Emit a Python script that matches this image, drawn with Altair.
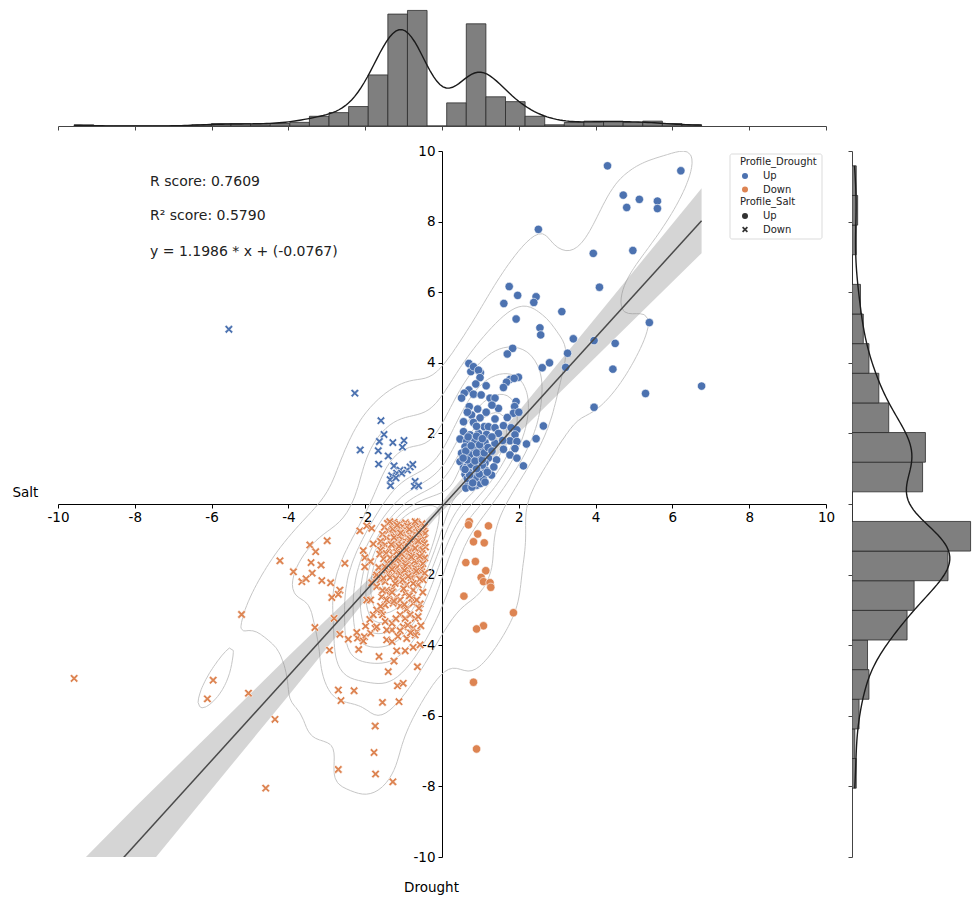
import numpy as np
import pandas as pd
import altair as alt

alt.data_transformers.disable_max_rows()
FONT = "DejaVu Sans"

# ---------------- data ----------------
# (Drought, Salt) pairs, grouped by (Profile_Drought, Profile_Salt)
up_up = [
    (4.31, 9.58), (6.22, 9.44), (4.72, 8.75), (4.81, 8.40), (5.14, 8.63), (5.61, 8.58), (5.61, 8.37), (2.51, 7.78), (3.94, 7.10), (4.97, 7.18),
    (4.10, 6.14), (1.75, 6.16), (1.61, 5.68), (1.97, 5.91), (2.45, 5.87), (2.39, 5.71), (1.93, 5.24), (3.12, 5.45), (2.55, 4.99), (2.57, 4.79),
    (3.42, 4.68), (3.96, 4.63), (4.51, 4.55), (5.40, 5.14), (3.27, 4.27), (1.84, 4.41), (1.70, 4.25), (2.80, 4.00), (2.61, 3.86), (3.22, 3.87),
    (4.45, 3.82), (5.30, 3.13), (3.96, 2.74), (6.76, 3.34), (2.64, 2.21), (2.45, 1.85), (2.20, 1.70), (2.12, 1.08), (0.75, 3.75), (1.00, 3.72),
    (0.70, 3.98), (0.82, 3.89), (0.95, 3.79), (0.99, 3.58), (1.99, 3.59), (1.77, 3.53), (1.68, 3.45), (1.60, 3.30), (1.88, 3.56), (0.70, 3.23),
    (0.58, 3.14), (0.51, 3.00), (0.82, 3.11), (1.02, 3.09), (1.25, 3.00), (1.38, 3.00), (1.93, 2.90), (1.89, 2.76), (1.47, 2.71), (0.71, 2.76),
    (0.93, 2.69), (0.77, 2.52), (0.99, 2.44), (1.86, 2.57), (1.38, 2.41), (0.56, 2.33), (0.82, 2.31), (1.10, 2.19), (1.21, 2.19), (1.38, 2.16),
    (1.60, 2.22), (1.80, 2.16), (1.95, 2.10), (0.56, 2.05), (0.73, 1.96), (0.95, 2.00), (1.16, 1.97), (1.47, 2.00), (1.90, 1.96), (0.47, 1.84),
    (0.64, 1.77), (0.86, 1.79), (1.12, 1.75), (1.38, 1.72), (1.77, 1.79), (1.95, 1.77), (0.60, 1.62), (0.82, 1.57), (1.03, 1.57), (1.90, 1.57),
    (0.51, 1.44), (0.73, 1.39), (0.95, 1.35), (1.21, 1.30), (1.42, 1.25), (1.77, 1.39), (1.95, 1.30), (0.47, 1.20), (0.69, 1.16), (0.90, 1.11),
    (1.12, 1.16), (0.56, 1.02), (0.77, 0.97), (0.99, 0.99), (0.60, 0.84), (0.82, 0.84), (1.03, 0.80), (1.29, 0.82), (0.73, 0.70), (0.95, 0.65),
    (0.69, 0.58), (0.90, 0.53),
    (0.62, 0.45), (0.78, 0.48), (0.85, 0.62), (1.00, 0.58), (0.66, 0.72), (0.88, 0.75), (1.08, 0.70), (0.70, 0.90), (0.93, 0.92), (1.15, 0.95),
    (0.64, 1.05), (0.84, 1.07), (1.05, 1.10), (0.75, 1.12), (0.97, 0.85), (1.18, 0.90), (0.80, 0.60), (1.12, 0.62), (0.72, 0.82), (0.90, 1.00),
    (0.60, 0.98), (1.35, 1.05),
    (0.66, 1.25), (0.86, 1.22), (1.05, 1.25), (0.62, 1.50), (0.90, 1.45), (1.10, 1.45), (0.76, 1.65), (0.98, 1.68), (1.20, 1.60), (0.68, 1.90),
    (0.90, 1.92), (1.05, 1.85), (1.30, 1.90), (1.60, 1.55), (1.58, 1.80), (0.55, 1.30), (1.30, 1.50),
    (0.66, 2.60), (1.15, 2.60), (1.30, 2.80), (0.90, 2.20), (1.70, 2.45), (2.00, 2.60),
    (0.88, 3.40), (1.15, 3.35),
]
up_down = [
    (-2.27, 3.14), (-1.59, 2.36), (-1.51, 1.97), (-1.63, 1.77), (-1.28, 1.74), (-0.99, 1.80), (-1.03, 1.61), (-2.13, 1.53), (-1.66, 1.51), (-1.40, 1.36),
    (-1.65, 1.13), (-1.25, 1.08), (-1.09, 0.96), (-1.18, 0.87), (-1.31, 0.80), (-1.35, 0.69), (-1.34, 0.52), (-0.90, 0.96), (-0.83, 1.05), (-0.76, 1.12),
    (-1.05, 0.87), (-0.70, 0.64), (-0.72, 0.50), (-0.61, 0.52), (-1.20, 0.74), (-5.55, 4.95),
]
down_up = [
    (0.71, -0.50), (0.69, -0.59), (1.21, -0.62), (0.93, -0.85), (0.82, -1.07), (1.10, -1.10), (0.62, -1.66), (0.87, -1.63), (1.14, -1.89), (1.02, -2.08),
    (1.08, -2.20), (1.25, -2.23), (1.27, -2.36), (0.57, -2.61), (1.86, -3.08), (1.08, -3.45), (0.90, -3.54), (0.82, -5.05), (0.90, -6.94),
]
down_down = [
    (-9.58, -4.94), (-5.22, -3.13), (-5.96, -4.99), (-6.11, -5.52), (-5.04, -5.36), (-4.35, -6.10), (-4.59, -8.05), (-4.22, -1.61), (-3.87, -1.92), (-3.44, -1.16),
    (-3.29, -1.35), (-2.99, -1.04), (-3.41, -1.66), (-3.15, -1.73), (-3.38, -1.96), (-3.65, -2.20), (-3.54, -2.12), (-3.13, -2.17), (-2.90, -2.23), (-2.53, -1.68),
    (-2.66, -2.44), (-2.70, -2.56), (-2.87, -2.65), (-3.31, -3.50), (-2.81, -3.24), (-2.66, -3.69), (-2.93, -4.14), (-2.70, -5.27), (-2.29, -5.29), (-2.63, -5.57),
    (-1.74, -6.29), (-1.77, -7.04), (-2.70, -7.52), (-1.73, -7.65), (-1.28, -7.87), (-1.55, -5.62), (-1.12, -5.60), (-1.16, -5.15), (-1.01, -5.08), (-1.40, -4.75),
    (-1.25, -4.45), (-1.64, -4.32), (-0.64, -4.61), (-0.57, -3.99), (-0.75, -4.06), (-0.96, -4.16), (-1.18, -4.16), (-2.14, -0.76), (-1.96, -0.62), (-1.83, -0.69),
    (-2.05, -1.32), (-2.01, -1.52), (-1.86, -1.63), (-2.01, -1.78), (-1.79, -1.13), (-1.57, -1.18), (-1.96, -2.72), (-1.86, -2.72), (-2.44, -3.83), (-2.20, -3.80),
    (-2.22, -3.64), (-2.02, -3.76), (-2.17, -4.12), (-1.86, -3.66), (-1.74, -3.52), (-1.99, -3.46), (-1.88, -3.27), (-1.79, -3.14), (-1.55, -3.14), (-1.58, -3.05),
    (-1.70, -3.00), (-1.48, -2.86), (-1.27, -2.81), (-1.09, -2.89), (-0.92, -2.98), (-0.75, -2.81), (-0.57, -2.83), (-1.09, -3.14), (-0.96, -3.24), (-0.83, -3.14),
    (-0.70, -3.24), (-0.62, -3.19), (-1.01, -3.48), (-0.89, -3.43), (-0.75, -3.52), (-0.66, -3.62), (-1.09, -3.59), (-1.30, -3.57), (-1.44, -3.57), (-1.44, -3.85),
    (-1.30, -3.90), (-0.92, -3.81), (-0.70, -3.71), (-1.48, -3.33), (-1.30, -3.38), (-1.70, -3.48), (-1.72, -2.06), (-1.61, -2.15), (-2.05, -3.88),
    (-1.83, -2.23), (-1.70, -2.34), (-1.44, -2.44), (-1.27, -2.36), (-1.09, -2.20), (-0.92, -2.29), (-0.75, -2.44), (-0.62, -2.29), (-0.49, -2.15), (-1.57, -2.63),
    (-1.37, -2.58), (-1.18, -2.63), (-0.96, -2.53), (-0.79, -2.67), (-0.66, -2.72), (-1.09, -2.72), (-1.44, -2.72), (-1.48, -2.20), (-1.70, -2.01), (-1.57, -1.87),
    (-1.27, -2.01), (-1.05, -2.01), (-0.88, -1.87), (-0.66, -2.01), (-0.53, -1.92),
    (-1.42, -0.55), (-1.25, -0.52), (-1.10, -0.57), (-0.95, -0.53), (-0.80, -0.58), (-0.66, -0.51), (-0.52, -0.56),
    (-1.50, -0.66), (-1.33, -0.63), (-1.18, -0.68), (-1.02, -0.64), (-0.88, -0.67), (-0.73, -0.62), (-0.58, -0.69), (-0.45, -0.64),
    (-1.40, -0.76), (-1.22, -0.73), (-1.07, -0.78), (-0.92, -0.74), (-0.78, -0.79), (-0.62, -0.75), (-0.48, -0.77),
    (-1.55, -0.86), (-1.30, -0.83), (-1.15, -0.88), (-1.00, -0.84), (-0.85, -0.87), (-0.70, -0.85), (-0.55, -0.89), (-0.44, -0.83),
    (-1.45, -0.96), (-1.20, -0.93), (-1.05, -0.98), (-0.90, -0.95), (-0.76, -0.97), (-0.60, -0.94), (-0.47, -0.99),
    (-1.60, -1.06), (-1.35, -1.03), (-1.12, -1.08), (-0.97, -1.04), (-0.82, -1.07), (-0.68, -1.05), (-0.52, -1.09),
    (-1.48, -1.16), (-1.27, -1.13), (-1.08, -1.17), (-0.93, -1.14), (-0.78, -1.18), (-0.63, -1.15), (-0.46, -1.12),
    (-1.38, -1.26), (-1.20, -1.23), (-1.02, -1.27), (-0.87, -1.24), (-0.72, -1.28), (-0.57, -1.25), (-0.43, -1.22),
    (-1.60, -1.31), (-1.10, -1.30), (-0.80, -1.32), (-0.50, -1.30),
    (-1.36, -0.50), (-0.70, -0.50), (-1.12, -0.91), (-0.83, -1.00), (-1.28, -0.71), (-0.99, -1.20), (-0.60, -0.81), (-1.17, -0.60),
    (-1.62, -1.42), (-1.45, -1.40), (-1.28, -1.44), (-1.12, -1.41), (-0.97, -1.45), (-0.83, -1.39), (-0.68, -1.43), (-0.52, -1.40),
    (-1.52, -1.55), (-1.35, -1.53), (-1.19, -1.57), (-1.04, -1.54), (-0.90, -1.58), (-0.75, -1.52), (-0.60, -1.56), (-0.45, -1.53),
    (-1.42, -1.68), (-1.26, -1.66), (-1.10, -1.70), (-0.95, -1.67), (-0.80, -1.71), (-0.65, -1.65), (-0.50, -1.69),
    (-1.65, -1.80), (-1.48, -1.78), (-1.33, -1.82), (-1.17, -1.79), (-1.00, -1.83), (-0.86, -1.78), (-0.70, -1.81), (-0.55, -1.84),
    (-1.40, -1.95), (-1.22, -1.93), (-1.10, -1.97), (-0.93, -1.94), (-0.78, -1.98), (-0.45, -1.96),
    (-1.52, -2.10), (-1.35, -2.08), (-1.20, -2.12), (-0.80, -2.09), (-0.58, -2.13),
    (-1.55, -2.45), (-1.30, -2.50), (-1.00, -2.40), (-0.50, -2.50), (-0.85, -2.60), (-1.25, -2.75), (-0.98, -2.85), (-0.60, -2.95), (-1.60, -2.90),
    (-1.20, -3.25), (-0.55, -3.45), (-1.15, -3.75), (-0.82, -3.65),
    (-1.25, -0.95), (-1.05, -1.15), (-0.85, -1.35), (-0.95, -1.75), (-1.15, -1.55), (-0.72, -1.62), (-0.62, -1.05), (-1.08, -0.82), (-0.90, -0.62), (-1.30, -1.85),
    (-0.75, -2.25), (-1.02, -2.15), (-1.18, -1.35), (-0.98, -1.88), (-0.67, -1.90), (-1.32, -1.15), (-0.85, -0.72), (-1.05, -1.42), (-0.58, -1.48), (-1.22, -2.25),
    (-0.88, -2.05), (-0.70, -1.25), (-1.12, -1.20), (-0.93, -1.30), (-0.80, -1.50),
]

# marginal histogram counts (equal-width bins spanning the data range)
drought_hist_counts = [1, 0, 0, 0, 0, 0, 1, 2, 2, 1, 2, 3, 8, 11, 16, 42, 92, 95, 0, 19, 84, 24, 20, 8, 1, 3, 4, 4, 3, 4, 2, 1]
salt_hist_counts = [3, 2, 5, 12, 11, 39, 44, 68, 84, 0, 50, 52, 26, 19, 12, 8, 6, 0, 3, 4, 3]

# regression summary (as printed on the chart)
reg_slope = 1.1986
reg_intercept = -0.0767
r_score = 0.7609
r2_score = 0.5790

# confidence band half-widths
ci_x = [-9.58, -8.0, -6.0, -4.0, -2.0, -0.2, 2.0, 4.0, 6.76]
ci_half = [1.22, 1.07, 0.81, 0.56, 0.26, 0.12, 0.31, 0.56, 0.92]

main_ticks = [-10, -8, -6, -4, -2, 2, 4, 6, 8, 10]
marginal_ticks = [-10, -8, -6, -4, -2, 0, 2, 4, 6, 8, 10]
legend_levels = ["Up", "Down"]

BLUE = "#4C72B0"
ORANGE = "#DD8452"
X_PATH = "M-1,-0.6L-0.6,-1L0,-0.4L0.6,-1L1,-0.6L0.4,0L1,0.6L0.6,1L0,0.4L-0.6,1L-1,0.6L-0.4,0Z"

MAIN_W, MAIN_H = 768, 706
TOP_H = 118
RIGHT_W = 120

# ---------------- tables ----------------
rows = []
for pts, d, s in [(up_up, "Up", "Up"), (up_down, "Up", "Down"),
                  (down_up, "Down", "Up"), (down_down, "Down", "Down")]:
    for x, y in pts:
        rows.append({"Drought": x, "Salt": y, "Profile_Drought": d, "Profile_Salt": s})
df = pd.DataFrame(rows)
xv = df["Drought"].to_numpy()
yv = df["Salt"].to_numpy()
n = len(df)

# 2-D gaussian KDE (Scott) and iso-proportion contours
data2 = np.vstack([xv, yv])
factor = n ** (-1.0 / 6.0)
kcov = np.cov(data2) * factor ** 2
kinv = np.linalg.inv(kcov)
bw = np.sqrt(np.diag(kcov))
gx = np.linspace(xv.min() - 3 * bw[0], xv.max() + 3 * bw[0], 200)
gy = np.linspace(yv.min() - 3 * bw[1], yv.max() + 3 * bw[1], 200)
GX, GY = np.meshgrid(gx, gy)
Z = np.zeros_like(GX)
for k in range(n):
    dx = GX - xv[k]
    dy = GY - yv[k]
    Z += np.exp(-0.5 * (kinv[0, 0] * dx * dx + 2 * kinv[0, 1] * dx * dy + kinv[1, 1] * dy * dy))
Z /= n * 2 * np.pi * np.sqrt(np.linalg.det(kcov))

iso = np.linspace(0.05, 1, 10)
vals = np.sort(Z.ravel())[::-1]
cum = np.cumsum(vals) / vals.sum()
levels = np.take(vals, np.searchsorted(cum, 1 - iso), mode="clip")
levels = [lv for lv in levels if lv < vals[0]]


def iso_segments(lev):
    A = Z >= lev
    with np.errstate(divide="ignore", invalid="ignore"):
        th = (lev - Z[:, :-1]) / (Z[:, 1:] - Z[:, :-1])
        tv = (lev - Z[:-1, :]) / (Z[1:, :] - Z[:-1, :])
    hm = A[:, :-1] != A[:, 1:]
    hx = gx[:-1][None, :] + th * np.diff(gx)[None, :]
    hy = np.repeat(gy[:, None], len(gx) - 1, axis=1)
    vm = A[:-1, :] != A[1:, :]
    vy = gy[:-1][:, None] + tv * np.diff(gy)[:, None]
    vx = np.repeat(gx[None, :], len(gy) - 1, axis=0)
    em = np.stack([hm[:-1, :], vm[:, 1:], hm[1:, :], vm[:, :-1]])
    ex = np.stack([hx[:-1, :], vx[:, 1:], hx[1:, :], vx[:, :-1]])
    ey = np.stack([hy[:-1, :], vy[:, 1:], hy[1:, :], vy[:, :-1]])
    cnt = em.sum(0)
    out = []
    for j, i in zip(*np.nonzero(cnt >= 2)):
        e = np.nonzero(em[:, j, i])[0]
        p = [(ex[q, j, i], ey[q, j, i]) for q in e]
        out.append((p[0][0], p[0][1], p[1][0], p[1][1]))
        if len(p) == 4:
            out.append((p[2][0], p[2][1], p[3][0], p[3][1]))
    return out


seg_rows = []
for li, lev in enumerate(levels):
    for a, b, c, d in iso_segments(lev):
        seg_rows.append({"x": a, "y": b, "x2": c, "y2": d, "lev": li})
contour_df = pd.DataFrame(seg_rows)

# regression line and band
line_df = pd.DataFrame({"x": [xv.min(), xv.max()]})
line_df["y"] = reg_slope * line_df["x"] + reg_intercept
band_df = pd.DataFrame({"x": ci_x, "h": ci_half})
band_df["lo"] = reg_slope * band_df["x"] + reg_intercept - band_df["h"]
band_df["hi"] = reg_slope * band_df["x"] + reg_intercept + band_df["h"]


# marginal histograms + KDE (scaled to counts, cut at data range)
def kde1d(v, grid):
    h = v.std(ddof=1) * len(v) ** (-0.2)
    z = (grid[:, None] - v[None, :]) / h
    return np.exp(-0.5 * z * z).sum(1) / (len(v) * h * np.sqrt(2 * np.pi))


tx_edges = np.linspace(xv.min(), xv.max(), len(drought_hist_counts) + 1)
top_hist = pd.DataFrame({"start": tx_edges[:-1], "end": tx_edges[1:], "count": drought_hist_counts})
tgrid = np.linspace(xv.min(), xv.max(), 200)
top_kde = pd.DataFrame({"x": tgrid, "d": kde1d(xv, tgrid) * n * (tx_edges[1] - tx_edges[0])})

ry_edges = np.linspace(yv.min(), yv.max(), len(salt_hist_counts) + 1)
right_hist = pd.DataFrame({"start": ry_edges[:-1], "end": ry_edges[1:], "count": salt_hist_counts})
rgrid = np.linspace(yv.min(), yv.max(), 200)
right_kde = pd.DataFrame({"y": rgrid, "d": kde1d(yv, rgrid) * n * (ry_edges[1] - ry_edges[0])})

# ---------------- scales & axes ----------------
xs = alt.Scale(domain=[-10, 10], nice=False, zero=False)
ys = alt.Scale(domain=[-10, 10], nice=False, zero=False)
common_axis = dict(values=main_ticks, grid=False, tickSize=4, labelFontSize=13.5, labelFont=FONT,
                   labelColor="black", domainColor="black", tickColor="black",
                   labelExpr="'' + datum.value", labelOverlap=False, labelFlush=False,
                   titleFont=FONT, titleFontSize=13.5, titleFontWeight="normal", titleColor="black",
                   titleAngle=0, titleBaseline="middle")
x_axis = alt.Axis(orient="bottom", offset=-MAIN_H / 2, labelPadding=2, title="Drought",
                  titleX=MAIN_W / 2 - 11, titleY=383, titleAlign="center", **common_axis)
y_axis = alt.Axis(orient="left", offset=-MAIN_W / 2, labelPadding=3, title="Salt",
                  titleX=-(MAIN_W / 2 + 46), titleY=341, titleAlign="left", **common_axis)

legend_style = dict(orient="none", legendX=682, symbolSize=36, symbolStrokeWidth=0,
                    titleFont=FONT, titleFontSize=10, titleFontWeight="normal",
                    labelFont=FONT, labelFontSize=10, labelColor="#222", titleColor="#222",
                    padding=0, rowPadding=3.5, titlePadding=4, labelOffset=13, values=legend_levels)

contours = alt.Chart(contour_df).mark_rule(color="#c6c6c6", strokeWidth=1, clip=True).encode(
    x=alt.X("x:Q", scale=xs, axis=x_axis), y=alt.Y("y:Q", scale=ys, axis=y_axis),
    x2="x2:Q", y2="y2:Q")
band = alt.Chart(band_df).mark_area(color="#888888", opacity=0.35, clip=True).encode(
    x=alt.X("x:Q", scale=xs, axis=x_axis), y=alt.Y("lo:Q", scale=ys, axis=y_axis), y2="hi:Q")
scatter = alt.Chart(df).mark_point(filled=True, size=70, opacity=1, stroke="white", strokeWidth=0.6).encode(
    x=alt.X("Drought:Q", scale=xs, axis=x_axis),
    y=alt.Y("Salt:Q", scale=ys, axis=y_axis),
    color=alt.Color("Profile_Drought:N",
                    scale=alt.Scale(domain=legend_levels, range=[BLUE, ORANGE]),
                    legend=alt.Legend(title="Profile_Drought", legendY=6, symbolType="circle", **legend_style)),
    shape=alt.Shape("Profile_Salt:N",
                    scale=alt.Scale(domain=legend_levels + ["-"], range=["circle", X_PATH, "square"]),
                    legend=alt.Legend(title="Profile_Salt", legendY=46, symbolFillColor="#333333", **legend_style)),
)
reg_line = alt.Chart(line_df).mark_line(color="#4a4a4a", strokeWidth=1.5, clip=True).encode(
    x=alt.X("x:Q", scale=xs, axis=x_axis), y=alt.Y("y:Q", scale=ys, axis=y_axis))

one = pd.DataFrame({"k": [0]})
frame = alt.Chart(one).mark_rect(fill="white", stroke="#d9d9d9", strokeWidth=1, cornerRadius=2, opacity=0.9).encode(
    x=alt.value(672), x2=alt.value(764), y=alt.value(3), y2=alt.value(88))
txt_style = dict(align="left", baseline="middle", font=FONT, fontSize=14, color="#222")
t1 = alt.Chart(one).mark_text(**txt_style).encode(x=alt.value(92), y=alt.value(31), text=alt.value(f"R score: {r_score:.4f}"))
t2 = alt.Chart(one).mark_text(**txt_style).encode(x=alt.value(92), y=alt.value(65), text=alt.value(f"R\u00b2 score: {r2_score:.4f}"))
t3 = alt.Chart(one).mark_text(**txt_style).encode(
    x=alt.value(92), y=alt.value(101), text=alt.value(f"y = {reg_slope:.4f} * x + ({reg_intercept:.4f})"))

main = alt.layer(contours, band, scatter, reg_line, frame, t1, t2, t3).properties(width=MAIN_W, height=MAIN_H)

marg_axis_x = alt.Axis(values=marginal_ticks, labels=False, grid=False, tickSize=4, title=None,
                       domainColor="#444", tickColor="#444")
marg_axis_y = alt.Axis(values=marginal_ticks, labels=False, grid=False, tickSize=4, title=None,
                       domainColor="#444", tickColor="#444")

top_cnt_scale = alt.Scale(domain=[0, 97], nice=False)
top_bars = alt.Chart(top_hist).mark_bar(color="#7f7f7f", stroke="#2b2b2b", strokeWidth=0.8, clip=True).encode(
    x=alt.X("start:Q", scale=xs, axis=marg_axis_x), x2="end:Q",
    y=alt.Y("count:Q", scale=top_cnt_scale, axis=None), y2=alt.datum(0))
top_line = alt.Chart(top_kde).mark_line(color="#1a1a1a", strokeWidth=1.4, clip=True).encode(
    x=alt.X("x:Q", scale=xs, axis=marg_axis_x),
    y=alt.Y("d:Q", scale=top_cnt_scale, axis=None))
top = alt.layer(top_bars, top_line).properties(width=MAIN_W, height=TOP_H)

right_cnt_scale = alt.Scale(domain=[0, 85], nice=False)
right_bars = alt.Chart(right_hist).mark_bar(color="#7f7f7f", stroke="#2b2b2b", strokeWidth=0.8, clip=True).encode(
    y=alt.Y("start:Q", scale=ys, axis=marg_axis_y), y2="end:Q",
    x=alt.X("count:Q", scale=right_cnt_scale, axis=None), x2=alt.datum(0))
right_line = alt.Chart(right_kde).mark_line(color="#1a1a1a", strokeWidth=1.4, clip=True).encode(
    y=alt.Y("y:Q", scale=ys, axis=marg_axis_y),
    x=alt.X("d:Q", scale=right_cnt_scale, axis=None),
    order=alt.Order("y:Q"))
right = alt.layer(right_bars, right_line).properties(width=RIGHT_W, height=MAIN_H)

row = alt.hconcat(main, right, spacing=26, bounds="flush").resolve_scale(color="independent", shape="independent")
chart = alt.vconcat(top, row, spacing=25, bounds="flush").resolve_scale(
    color="independent", shape="independent"
).properties(
    padding={"left": 12, "top": 8, "right": 0, "bottom": 3},
    background="white",
).configure(font=FONT).configure_view(stroke=None)

chart.save("out.html", embed_options={"renderer": "svg", "actions": False})
